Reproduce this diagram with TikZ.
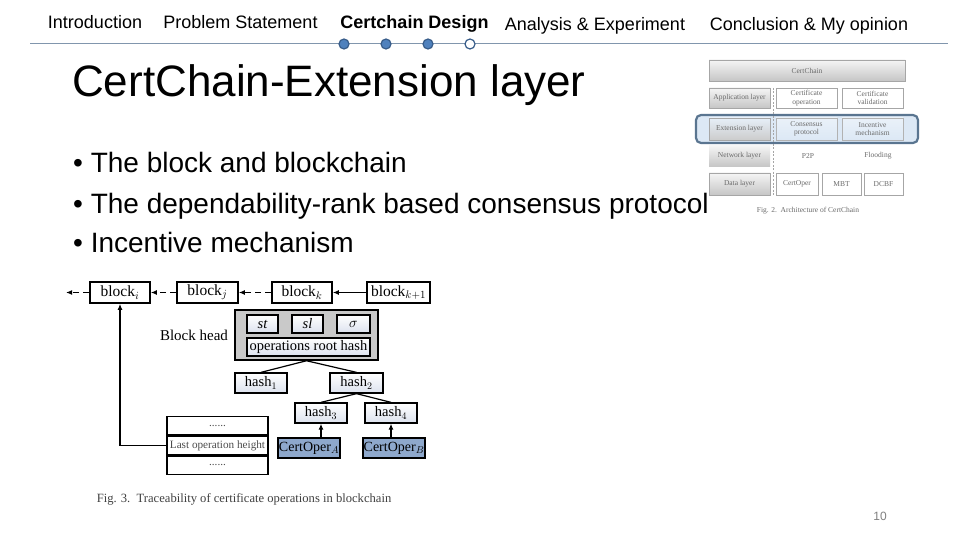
\documentclass[tikz,border=0pt]{standalone}
\usepackage{fontspec}
\setmainfont{Liberation Sans}
\newfontfamily\serif{Liberation Serif}
\usetikzlibrary{arrows.meta}
\pgfdeclarelayer{bg}
\pgfsetlayers{bg,main}
\definecolor{hline}{HTML}{8196AD}
\definecolor{dotfill}{HTML}{4F81BD}
\definecolor{dotedge}{HTML}{385D8A}
\definecolor{hlfill}{HTML}{DCE8F5}
\definecolor{hledge}{HTML}{5A7590}
\definecolor{copfill}{HTML}{8EA8CC}
\definecolor{lavender}{HTML}{DCE2EE}
\definecolor{headgray}{HTML}{C9C9C9}
\definecolor{figtext}{HTML}{6A6A6A}
\begin{document}
\begin{tikzpicture}[x=1pt,y=-1pt,
  navtext/.style={anchor=base,inner sep=0,font=\fontsize{18}{20}\selectfont},
  navdot/.style={circle,draw=dotedge,line width=1.2pt,fill=dotfill,minimum size=10pt,inner sep=0},
  bullet/.style={anchor=base west,inner sep=0,font=\fontsize{28}{30}\selectfont},
  % figure 2
  graybox/.style={draw=gray!70,line width=0.6pt,top color=gray!8,bottom color=gray!45,minimum width=61pt,inner sep=0,text=figtext,font=\serif\fontsize{7.5}{8.5}\selectfont,align=center},
  whitebox/.style={draw=gray!70,line width=0.6pt,fill=white,minimum height=20pt,inner sep=0,text=figtext,font=\serif\fontsize{7.5}{8.5}\selectfont,align=center},
  bluebox/.style={draw=gray!60,line width=0.6pt,top color=hlfill!60,bottom color=hlfill,minimum height=22pt,inner sep=0,text=figtext,font=\serif\fontsize{7.5}{8.5}\selectfont,align=center},
  plaintext/.style={inner sep=0,text=figtext,font=\serif\fontsize{7.5}{8.5}\selectfont},
  % figure 3
  blk/.style={draw,line width=1.6pt,fill=white,minimum height=21pt,inner sep=0,font=\serif\fontsize{15.5}{15.5}\selectfont},
  hbox/.style={draw,line width=1.3pt,top color=white,bottom color=lavender,minimum height=19pt,inner sep=0,font=\serif\fontsize{14.5}{14.5}\selectfont},
  copbox/.style={draw,line width=1.3pt,fill=copfill,minimum height=20pt,minimum width=62pt,inner sep=0,font=\serif\fontsize{14}{14}\selectfont},
  tabrow/.style={draw,line width=1.3pt,fill=white,minimum width=101pt,minimum height=18.3pt,inner sep=0,text=black!70,font=\serif\fontsize{11.2}{11.2}\selectfont},
  dasharr/.style={line width=1.2pt,dash pattern=on 6pt off 4pt,-{Latex[length=6pt,width=5pt]}},
  solarr/.style={line width=1.2pt,-{Latex[length=6pt,width=5pt]}},
  treeline/.style={line width=1.2pt}
]
\useasboundingbox[fill=white] (0,0) rectangle (960,540);

% ---------- header ----------
\node[navtext] (nav1) at (95,28.5) {Introduction};
\node[navtext] (nav2) at (240.5,28.5) {Problem Statement};
\node[navtext,font=\bfseries\fontsize{18}{20}\selectfont] (nav3) at (414.5,28.5) {Certchain Design};
\node[navtext] (nav4) at (595,30.5) {Analysis \& Experiment};
\node[navtext] (nav5) at (809,31) {Conclusion \& My opinion};
\coordinate (hl1) at (30,44);
\coordinate (hl2) at (948,44);
\draw[hline,line width=1pt] (hl1) -- (hl2);
\node[navdot] (dot1) at (344,44) {};
\node[navdot] (dot2) at (386,44) {};
\node[navdot] (dot3) at (428,44) {};
\node[navdot,fill=white] (dot4) at (470,44) {};

% ---------- title and bullets ----------
\node[anchor=base west,inner sep=0,font=\fontsize{44}{46}\selectfont] (title) at (72,97) {CertChain-Extension layer};
\node[bullet] (b1) at (73,172) {\textbullet\ The block and blockchain};
\node[bullet] (b2) at (73,213) {\textbullet\ The dependability-rank based consensus protocol};
\node[bullet] (b3) at (73,252) {\textbullet\ Incentive mechanism};

% ---------- figure 2: architecture ----------
\node[draw=hledge,line width=2.2pt,rounded corners=5pt,fill=hlfill,minimum width=222pt,minimum height=28pt,inner sep=0] (hlrow) at (807,129) {};
\node[graybox,minimum width=196pt,minimum height=21pt] (cc) at (807,70.5) {CertChain};
\node[graybox,minimum height=20pt] (al) at (739.5,98) {Application layer};
\node[whitebox,minimum width=61pt] (co) at (806.5,98) {Certificate\\operation};
\node[whitebox,minimum width=61pt] (cv) at (872.5,98) {Certificate\\validation};
\node[graybox,minimum height=22pt,top color=hlfill!70,bottom color=gray!40] (el) at (739.5,129) {Extension layer};
\node[bluebox,minimum width=61pt] (cp) at (806.5,129) {Consensus\\protocol};
\node[bluebox,minimum width=61pt] (im) at (872.5,129) {Incentive\\mechanism};
\node[graybox,minimum height=21pt,draw=none] (nl) at (739.5,156) {Network layer};
\node[plaintext] (p2p) at (808,156) {P2P};
\node[plaintext] (fl) at (878,156) {Flooding};
\node[graybox,minimum height=22pt] (dl) at (739.5,184) {Data layer};
\node[whitebox,minimum width=42pt,minimum height=22pt] (cop2) at (797,184) {CertOper};
\node[whitebox,minimum width=39pt,minimum height=22pt] (mbt) at (841.5,184) {MBT};
\node[whitebox,minimum width=39pt,minimum height=22pt] (dcbf) at (883.5,184) {DCBF};
\coordinate (dtop) at (773,88);
\coordinate (dbot) at (773,196);
\draw[gray!70,line width=0.6pt,dash pattern=on 2pt off 1.5pt] (dtop) -- (dbot);
\node[plaintext] (cap2) at (808,211) {Fig. 2.\enspace Architecture of CertChain};

% ---------- figure 3: traceability ----------
\node[blk,minimum width=60pt] (bi) at (120,292.5) {block$_i$};
\node[blk,minimum width=61pt] (bj) at (207.5,292.5) {block$_j$};
\node[blk,minimum width=60pt] (bk) at (302,292.5) {block$_k$};
\node[blk,minimum width=63pt] (bk1) at (398.5,292.5) {block$_{k+1}$};
\coordinate (lend) at (66,292.5);
\draw[dasharr] (bi.west) -- (lend);
\draw[dasharr] (bj.west) -- (bi.east);
\draw[dasharr] (bk.west) -- (bj.east);
\draw[solarr] (bk1.west) -- (bk.east);

\node[draw,line width=1.5pt,fill=headgray,minimum width=143pt,minimum height=50pt,inner sep=0] (bh) at (306.5,335) {};
\begin{pgfonlayer}{bg}
\fill[gray!35] (bk.south west) -- (bk.south east) -- (bh.north east) -- (bh.north west) -- cycle;
\end{pgfonlayer}
\node[hbox,minimum width=31pt,minimum height=18pt] (st) at (262.5,324) {\itshape st};
\node[hbox,minimum width=31pt,minimum height=18pt] (sl) at (307.5,324) {\itshape sl};
\node[hbox,minimum width=33pt,minimum height=18pt] (sig) at (353.5,324) {$\sigma$};
\node[hbox,minimum width=123pt,minimum height=18pt] (orh) at (308.5,347) {operations root hash};
\node[inner sep=0,font=\serif\fontsize{15}{15}\selectfont] (bhl) at (194,335) {Block head};

\node[hbox,minimum width=52pt,minimum height=20pt] (h1) at (261,383) {hash$_1$};
\node[hbox,minimum width=53pt,minimum height=20pt] (h2) at (356.5,383) {hash$_2$};
\node[hbox,minimum width=52pt,minimum height=20pt] (h3) at (321,413) {hash$_3$};
\node[hbox,minimum width=52pt,minimum height=20pt] (h4) at (391,413) {hash$_4$};
\draw[treeline] (bh.south) -- (h1.north);
\draw[treeline] (bh.south) -- (h2.north);
\draw[treeline] (h2.south) -- (h3.north);
\draw[treeline] (h2.south) -- (h4.north);

\node[copbox] (coA) at (309,448) {CertOper$_A$};
\node[copbox] (coB) at (394,448) {CertOper$_B$};
\draw[solarr] (h3.south |- coA.north) -- (h3.south);
\draw[solarr] (h4.south |- coB.north) -- (h4.south);

\node[tabrow] (t2) at (217.5,445.5) {Last operation height};
\node[tabrow,anchor=south] (t1) at (t2.north) {......};
\node[tabrow,anchor=north] (t3) at (t2.south) {......};
\begin{pgfonlayer}{bg}
\fill[copfill!45] (t1.north east) -- (coA.north west) -- (coA.south west) -- (t3.south east) -- cycle;
\end{pgfonlayer}
\draw[solarr] (t2.west) -| (bi.south);

\node[inner sep=0,text=black!75,font=\serif\fontsize{12.6}{12.6}\selectfont] (cap3) at (244,499) {Fig. 3.\enspace Traceability of certificate operations in blockchain};

% ---------- page number ----------
\node[inner sep=0,text=gray,font=\fontsize{12}{12}\selectfont] (pnum) at (880,516) {10};
\end{tikzpicture}
\end{document}
